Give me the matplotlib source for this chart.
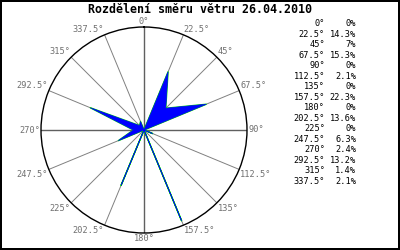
import numpy as np
import matplotlib
matplotlib.use("Agg")
import matplotlib.pyplot as plt
from matplotlib.patches import Rectangle

# wind direction distribution
directions = [0, 22.5, 45, 67.5, 90, 112.5, 135, 157.5,
              180, 202.5, 225, 247.5, 270, 292.5, 315, 337.5]
dir_labels = ["0", "22.5", "45", "67.5", "90", "112.5", "135", "157.5",
              "180", "202.5", "225", "247.5", "270", "292.5", "315", "337.5"]
percent = [0, 14.3, 7, 15.3, 0, 2.1, 0, 22.3,
           0, 13.6, 0, 6.3, 2.4, 13.2, 1.4, 2.1]
pct_labels = ["0", "14.3", "7", "15.3", "0", "2.1", "0", "22.3",
              "0", "13.6", "0", "6.3", "2.4", "13.2", "1.4", "2.1"]
title = "Rozdělení směru větru 26.04.2010"

mono = "DejaVu Sans Mono"

fig = plt.figure(figsize=(4, 2.5), dpi=100)
fig.patch.set_facecolor("white")

# center ~ (144,130) px, radius ~103 px
ax = fig.add_axes([0.1025, 0.068, 0.515, 0.824], projection="polar")
ax.set_theta_zero_location("N")
ax.set_theta_direction(-1)
rmax = max(percent) * 1.05
ax.set_ylim(0, rmax)
ax.set_yticks([])
ax.set_xticks([])
ax.grid(False)
ax.spines["polar"].set_color("black")
ax.spines["polar"].set_linewidth(1.0)

th = np.deg2rad(directions)

# spokes
for d, t in zip(directions, th):
    main = d % 90 == 0
    ax.plot([t, t], [0, rmax], color="#606060" if main else "#808080",
            lw=1.0 if main else 0.7, zorder=1)

# direction labels around the circle
for lab, t in zip(dir_labels, th):
    s, c = np.sin(t), np.cos(t)
    ha = "center" if abs(s) < 0.1 else ("left" if s > 0 else "right")
    va = "center" if abs(c) < 0.1 else ("bottom" if c > 0 else "top")
    ax.text(t, rmax * 1.01, lab + "°", ha=ha, va=va, fontsize=6.2,
            family=mono, color="#707070", clip_on=False)

# area
tt = np.append(th, th[0])
rr = np.append(percent, percent[0])
ax.plot(tt, rr, color="#00dd00", lw=1.0, zorder=2)
ax.fill(tt, rr, color="blue", lw=0.4, zorder=3)

fig.text(0.5, 1 - 9.5 / 250, title, ha="center", va="center",
         fontsize=8.4, family=mono, fontweight="bold")

# table on the right
for i, (a, p) in enumerate(zip(dir_labels, pct_labels)):
    y = 1 - (24 + i * 10.47) / 250
    fig.text(325 / 400, y, a + "°", ha="right", va="center",
             fontsize=6.2, family=mono)
    fig.text(356 / 400, y, p + "%", ha="right", va="center",
             fontsize=6.2, family=mono)

fig.add_artist(Rectangle((1 / 400, 1 / 250), 398 / 400, 248 / 250,
                         transform=fig.transFigure,
                         fill=False, edgecolor="black", lw=1.44))

fig.savefig("out.png", dpi=100)
